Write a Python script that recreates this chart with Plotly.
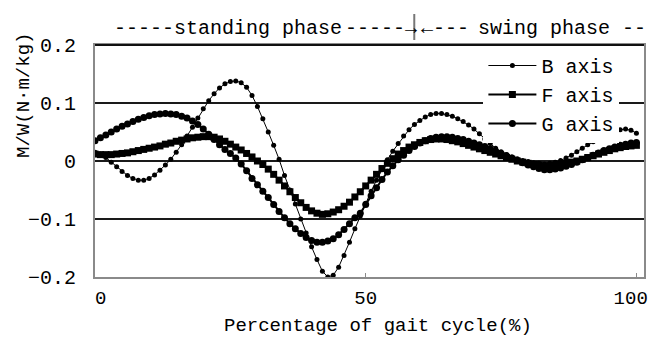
import plotly.graph_objects as go

# ---------------- data ----------------
gait_pct = list(range(0, 101))

b_axis = [0.015, 0.012, 0.006, -0.002, -0.010, -0.018, -0.025, -0.030, -0.033, -0.033,
          -0.030, -0.024, -0.016, -0.007, 0.003, 0.015, 0.028, 0.043, 0.058, 0.074,
          0.090, 0.104, 0.116, 0.126, 0.133, 0.137, 0.138, 0.135, 0.127, 0.113,
          0.094, 0.073, 0.050, 0.027, 0.003, -0.025, -0.050, -0.074, -0.100, -0.124,
          -0.148, -0.170, -0.190, -0.200, -0.197, -0.183, -0.163, -0.140, -0.117, -0.095,
          -0.073, -0.052, -0.033, -0.015, 0.002, 0.017, 0.030, 0.043, 0.054, 0.063,
          0.070, 0.076, 0.080, 0.082, 0.082, 0.080, 0.077, 0.073, 0.068, 0.062,
          0.055, 0.047, 0.038, 0.030, 0.022, 0.016, 0.011, 0.007, 0.004, 0.001,
          -0.001, -0.003, -0.004, -0.005, -0.004, -0.002, 0.001, 0.005, 0.010, 0.016,
          0.022, 0.028, 0.033, 0.038, 0.043, 0.047, 0.051, 0.054, 0.055, 0.053,
          0.048]

f_axis = [0.012, 0.011, 0.011, 0.011, 0.012, 0.013, 0.014, 0.016, 0.018, 0.020,
          0.022, 0.024, 0.026, 0.029, 0.031, 0.034, 0.036, 0.038, 0.040, 0.041,
          0.042, 0.042, 0.041, 0.038, 0.034, 0.029, 0.024, 0.019, 0.013, 0.007,
          0.000, -0.006, -0.014, -0.023, -0.033, -0.043, -0.053, -0.063, -0.072, -0.080,
          -0.086, -0.090, -0.092, -0.091, -0.088, -0.084, -0.078, -0.071, -0.062, -0.053,
          -0.043, -0.033, -0.023, -0.013, -0.004, 0.004, 0.012, 0.018, 0.024, 0.028,
          0.032, 0.035, 0.037, 0.038, 0.038, 0.037, 0.035, 0.033, 0.030, 0.027,
          0.024, 0.021, 0.018, 0.015, 0.012, 0.009, 0.006, 0.003, 0.000, -0.002,
          -0.004, -0.006, -0.007, -0.008, -0.008, -0.007, -0.006, -0.004, -0.002, 0.000,
          0.003, 0.006, 0.009, 0.012, 0.015, 0.018, 0.021, 0.023, 0.025, 0.026,
          0.027]

g_axis = [0.035, 0.040, 0.045, 0.050, 0.055, 0.060, 0.064, 0.068, 0.072, 0.075,
          0.078, 0.080, 0.081, 0.082, 0.081, 0.080, 0.077, 0.074, 0.069, 0.063,
          0.055, 0.046, 0.037, 0.028, 0.020, 0.013, 0.005, -0.005, -0.017, -0.030,
          -0.041, -0.052, -0.063, -0.075, -0.087, -0.098, -0.108, -0.117, -0.125, -0.132,
          -0.137, -0.140, -0.140, -0.138, -0.134, -0.127, -0.118, -0.108, -0.098, -0.090,
          -0.075, -0.060, -0.046, -0.032, -0.019, -0.008, 0.002, 0.010, 0.018, 0.025,
          0.031, 0.035, 0.039, 0.041, 0.042, 0.042, 0.041, 0.039, 0.037, 0.034,
          0.031, 0.028, 0.025, 0.021, 0.017, 0.013, 0.009, 0.005, 0.001, -0.003,
          -0.007, -0.010, -0.013, -0.015, -0.015, -0.014, -0.012, -0.009, -0.006, -0.002,
          0.002, 0.006, 0.010, 0.014, 0.018, 0.021, 0.024, 0.027, 0.029, 0.031,
          0.032]

series_names = ["B axis", "F axis", "G axis"]
x_tickvals = [0, 50, 100]
x_ticktext = ["\u00a00", "50", "100\u00a0"]
y_tickvals = [-0.2, -0.1, 0, 0.1, 0.2]
y_ticktext = ["\u22120.2", "\u22120.1", "0", "0.1", "0.2"]

FONT = "Liberation Mono, DejaVu Sans Mono, monospace"

fig = go.Figure()
fig.add_trace(go.Scatter(
    x=gait_pct, y=b_axis, name=series_names[0], mode="lines+markers",
    line=dict(color="black", width=1),
    marker=dict(symbol="circle", size=5, color="black")))
fig.add_trace(go.Scatter(
    x=gait_pct, y=f_axis, name=series_names[1], mode="lines+markers",
    line=dict(color="black", width=2),
    marker=dict(symbol="square", size=7, color="black")))
fig.add_trace(go.Scatter(
    x=gait_pct, y=g_axis, name=series_names[2], mode="lines+markers",
    line=dict(color="black", width=2),
    marker=dict(symbol="circle", size=7, color="black")))

W, H = 662, 337
L, R, T, B = 95, 3, 45, 60


def px_x(p):
    return (p - L) / (W - L - R)


def px_y(p):
    return (H - B - p) / (H - T - B)


fig.update_layout(
    width=W, height=H,
    margin=dict(l=L, r=R, t=T, b=B, pad=0),
    paper_bgcolor="white", plot_bgcolor="white",
    font=dict(family=FONT, color="black", size=19),
    showlegend=True,
    legend=dict(x=px_x(494), y=px_y(46), xanchor="left", yanchor="top",
                bgcolor="white", borderwidth=0,
                font=dict(family=FONT, size=20, color="black"),
                itemwidth=48, tracegroupgap=0),
    xaxis=dict(range=[0, 101.4], tickvals=x_tickvals, ticktext=x_ticktext,
               showgrid=False, zeroline=False,
               showline=True, linecolor="#8a8a8a", linewidth=2, mirror=True,
               ticks="inside", ticklen=4, tickcolor="#8a8a8a", tickwidth=1,
               tickfont=dict(family=FONT, size=19, color="black"),
               ticklabelstandoff=2, ticklabeloverflow="allow"),
    yaxis=dict(range=[-0.2, 0.2], tickvals=y_tickvals, ticktext=y_ticktext,
               showgrid=True, gridcolor="#1a1a1a", gridwidth=1.5,
               zeroline=False,
               showline=True, linecolor="#8a8a8a", linewidth=2, mirror=True,
               ticks="",
               tickfont=dict(family=FONT, size=20, color="black"),
               ticklabelstandoff=13),
)

# top border (dark), phase annotations
fig.add_shape(type="line", xref="paper", yref="paper", x0=0, x1=1, y0=1, y1=1,
              line=dict(color="#111", width=2))
fig.add_shape(type="line", xref="paper", yref="paper",
              x0=px_x(423), x1=px_x(423), y0=px_y(14), y1=px_y(40),
              line=dict(color="#777", width=2))

ann_font = dict(family=FONT, size=20, color="black")
for txt, xp in [("-----standing phase", 112), ("-----\u2192", 350),
                ("\u2190---", 428), ("swing phase --", 486)]:
    fig.add_annotation(text=txt, xref="paper", yref="paper", x=px_x(xp), y=px_y(28),
                       xanchor="left", yanchor="middle", showarrow=False, font=ann_font)

fig.add_annotation(text="M/W(N\u00b7m/kg)", xref="paper", yref="paper",
                   x=px_x(22), y=px_y(95), textangle=-90, xanchor="center",
                   yanchor="middle", showarrow=False,
                   font=dict(family=FONT, size=19, color="black"))
fig.add_annotation(text="Percentage of gait cycle(%)", xref="paper", yref="paper",
                   x=px_x(386), y=px_y(326), xanchor="center", yanchor="middle",
                   showarrow=False, font=dict(family=FONT, size=19, color="black"))

fig.write_html("out.html")
